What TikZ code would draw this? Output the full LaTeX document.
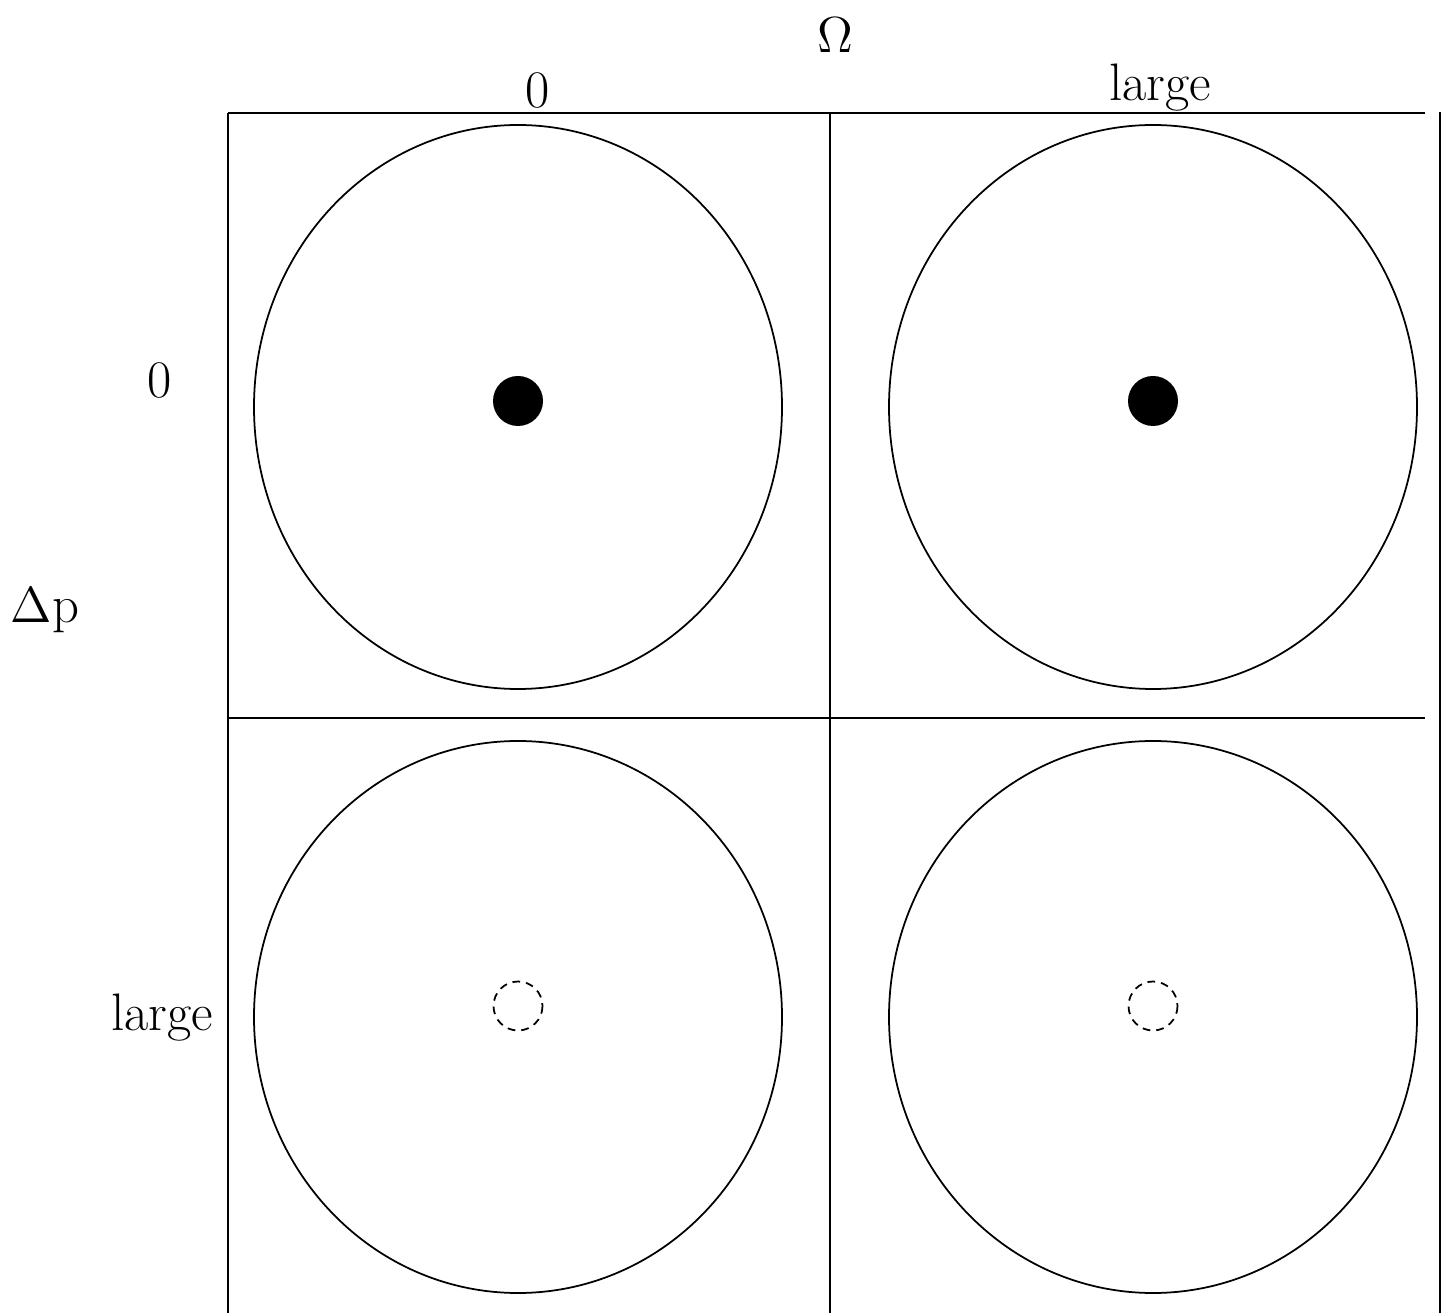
\documentclass[tikz,border=0pt]{standalone}
\usepackage{tikz}
\tikzset{
  lbl/.style={font=\fontsize{15}{18}\selectfont, inner sep=0pt},
  phase/.style={line width=0.5pt},
  seed/.style={line width=0.5pt, dash pattern=on 2.2pt off 1.7pt}
}
\begin{document}
\begin{tikzpicture}[x=0.01cm,y=-0.01cm]
\useasboundingbox (0,0) rectangle (1445,1313);
% grid of the four cases
\coordinate (tl) at (228,113);
\coordinate (tr) at (1425,113);
\coordinate (ml) at (228,718);
\coordinate (mr) at (1425,718);
\draw[line width=0.6pt] (tl) -- (tr);
\draw[line width=0.6pt] (ml) -- (mr);
\draw[line width=0.6pt] (tl) -- (228,1313);
\draw[line width=0.6pt] (830,113) -- (830,1313);
\draw[line width=0.6pt] (1440,112) -- (1440,1313);
% phase space circles
\draw[phase] (518,407) ellipse (264 and 282);
\draw[phase] (1153,407) ellipse (264 and 282);
\draw[phase] (518,1017) ellipse (264 and 276);
\draw[phase] (1153,1017) ellipse (264 and 276);
\fill (518,401) circle (25);
\fill (1153,401) circle (25);
\draw[seed] (518,1006) circle (24.5);
\draw[seed] (1153,1006) circle (24.5);
% labels
\node[lbl] (omega) at (835,35) {$\Omega$};
\node[lbl] (om0) at (538,90) {0};
\node[lbl] (omlarge) at (1160,88) {large};
\node[lbl] (dp) at (45,610) {$\Delta$p};
\node[lbl] (dp0) at (160,380) {0};
\node[lbl] (dplarge) at (162,1018) {large};
\end{tikzpicture}
\end{document}
